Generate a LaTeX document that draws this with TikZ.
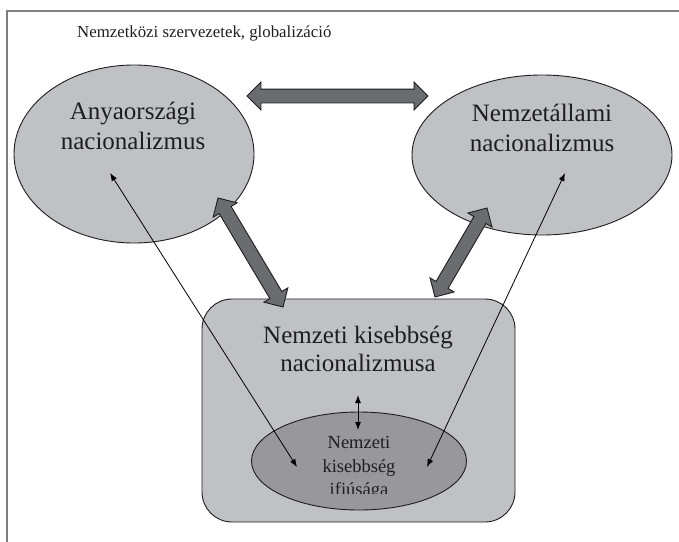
\documentclass[tikz,border=0pt]{standalone}
\usepackage{fontspec}
\setmainfont{Liberation Serif}
\usetikzlibrary{arrows.meta, shapes.geometric, shapes.arrows, calc}
\definecolor{ellfill}{HTML}{C0C1C5}
\definecolor{innerfill}{HTML}{98989C}
\definecolor{fatfill}{HTML}{6B6C70}
\definecolor{frameline}{HTML}{7F7F7F}
\definecolor{edgeline}{HTML}{1E1E1E}
\tikzset{
  ellnode/.style  = {ellipse, draw=edgeline, fill=ellfill, line width=0.9pt, inner sep=0pt},
  boxnode/.style  = {rectangle, rounded corners=30pt, draw=edgeline, fill=ellfill,
                     line width=0.9pt, inner sep=0pt},
  innerell/.style = {ellipse, draw=edgeline, fill=innerfill, line width=0.9pt, inner sep=0pt},
  bigtxt/.style   = {align=center, inner sep=0pt, text=edgeline,
                     font=\fontsize{25}{30}\selectfont},
  midtxt/.style   = {align=center, inner sep=0pt, text=edgeline,
                     font=\fontsize{25}{28.5}\selectfont},
  smalltxt/.style = {align=center, inner sep=0pt, text=edgeline,
                     font=\fontsize{18.5}{23.5}\selectfont},
  toptxt/.style   = {anchor=base west, inner sep=0pt, text=edgeline,
                     font=\fontsize{16.8}{20}\selectfont},
  fatarr/.style   = {double arrow, draw=edgeline, fill=fatfill, line width=0.9pt,
                     inner sep=6.5pt, double arrow head extend=7pt,
                     double arrow tip angle=90},
  thinarr/.style  = {{Latex[length=8pt,width=6pt]}-{Latex[length=8pt,width=6pt]},
                     line width=0.8pt, draw=black},
}

\begin{document}
\begin{tikzpicture}[x=1pt, y=-1pt]
  \useasboundingbox (0,0) rectangle (679,541);
  \draw[frameline, line width=1.6pt] (7,11) rectangle (720,580);
  \node[toptxt] (title) at (77,37) {Nemzetközi szervezetek, globalizáció};

  % the three fields
  \node[ellnode, minimum width=240pt, minimum height=178pt] (anya) at (134,154) {};
  \node[ellnode, minimum width=260pt, minimum height=160pt] (nemz) at (542,155) {};
  \node[boxnode, minimum width=313pt, minimum height=223pt] (kis) at (358.5,410.5) {};
  \node[innerell, minimum width=215pt, minimum height=98pt] (ifju) at (359,461) {};

  \node[bigtxt] (anyatxt) at (133,126) {Anyaországi\\nacionalizmus};
  \node[bigtxt] (nemztxt) at (542,128) {Nemzetállami\\nacionalizmus};
  \node[midtxt] (kistxt) at (358,349) {Nemzeti kisebbség\\nacionalizmusa};
  \begin{scope}
    \clip (250,420) rectangle (470,493);
    \node[smalltxt] (ifjutxt) at (359,468) {Nemzeti\\kisebbség\\ifiúsága};
  \end{scope}

  % ends of the connectors
  \coordinate (fa1) at (247,96);  \coordinate (fa2) at (428,96);
  \coordinate (fb1) at (218,198); \coordinate (fb2) at (283,307);
  \coordinate (fc1) at (487,208); \coordinate (fc2) at (435,297);
  \coordinate (ta1) at (110,173); \coordinate (ta2) at (297,467);
  \coordinate (tb1) at (565,173); \coordinate (tb2) at (427,467);
  \coordinate (s1) at (358,395);  \coordinate (s2) at (358,430);

  \foreach \a/\b/\nm in {fa1/fa2/fatA, fb1/fb2/fatB, fc1/fc2/fatC}{
    \path let \p1 = ($(\b)-(\a)$), \n1 = {veclen(\x1,\y1)}, \n2 = {atan2(\y1,\x1)} in
      node[fatarr, minimum height=\n1, rotate=\n2] (\nm) at ($(\a)!0.5!(\b)$) {};
  }
  \draw[thinarr] (ta1) -- (ta2);
  \draw[thinarr] (tb1) -- (tb2);
  \draw[thinarr, line width=1pt] (s1) -- (s2);
\end{tikzpicture}
\end{document}
